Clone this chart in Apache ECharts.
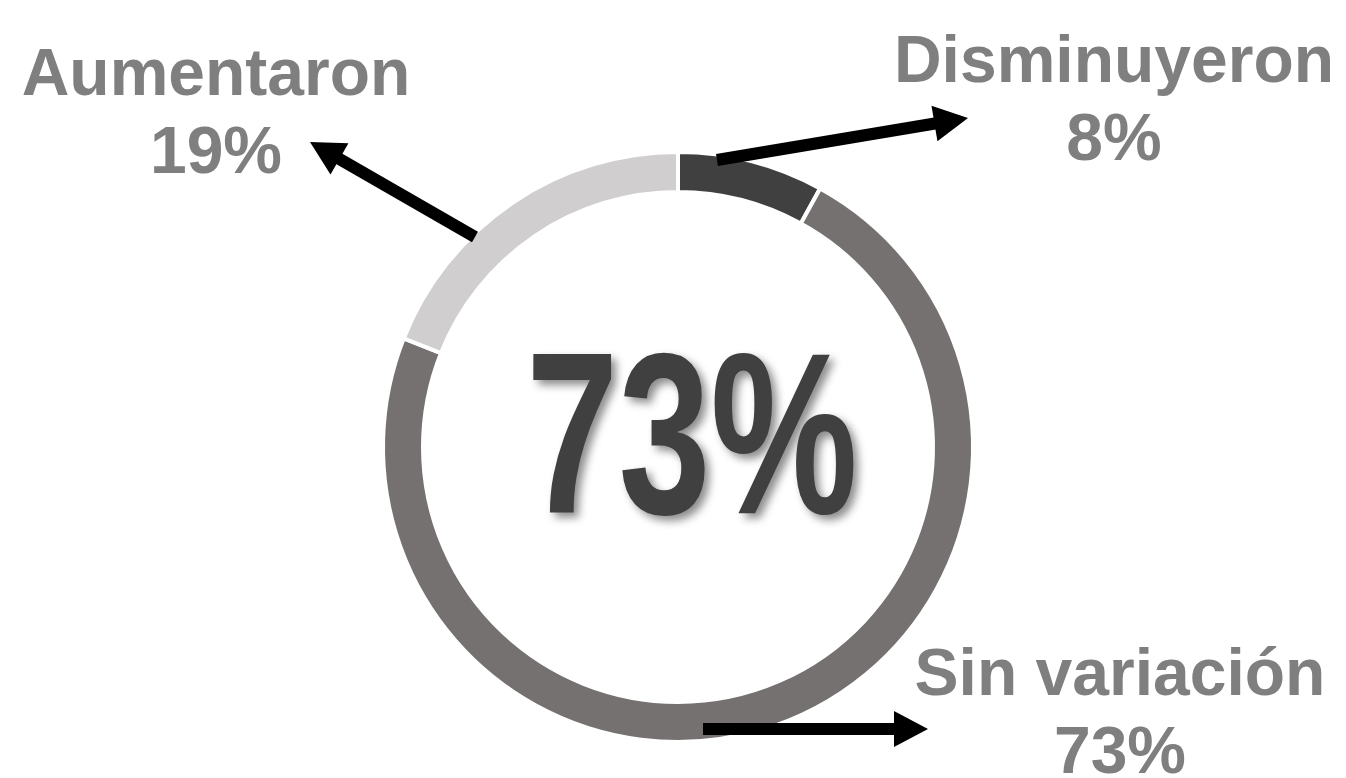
<!DOCTYPE html>
<html>
<head>
<meta charset="utf-8">
<script src="https://cdn.jsdelivr.net/npm/echarts@6/dist/echarts.min.js"></script>
<style>
  html, body { margin: 0; padding: 0; background: #fff; }
  #chart { width: 1346px; height: 778px; }
</style>
</head>
<body>
<div id="chart"></div>
<script>
var chart = echarts.init(document.getElementById('chart'));

// data, clockwise from 12 o'clock
var categories = ['Disminuyeron', 'Sin variación', 'Aumentaron'];
var values = [8, 73, 19];
var colors = ['#404040', '#767171', '#d0cece'];
var centerText = '73%';

// where each label sits (pixels)
var labelPos = [
  [1114, 103],
  [1120, 716],
  [216, 116]
];

// arrows: [tailX, tailY, tipX, tipY]
var arrows = [
  [717, 160, 968, 118],
  [703, 729, 928, 729],
  [475, 237, 310, 142]
];

function arrow(a) {
  var x1 = a[0], y1 = a[1], x2 = a[2], y2 = a[3];
  var dx = x2 - x1, dy = y2 - y1;
  var len = Math.sqrt(dx * dx + dy * dy);
  var ux = dx / len, uy = dy / len;
  var headLen = 34, headW = 18;
  var bx = x2 - ux * headLen, by = y2 - uy * headLen;
  return [
    {
      type: 'line',
      silent: true,
      z: 100,
      shape: { x1: x1, y1: y1, x2: bx + ux * 2, y2: by + uy * 2 },
      style: { stroke: '#000', lineWidth: 12 }
    },
    {
      type: 'polygon',
      silent: true,
      z: 100,
      shape: {
        points: [
          [x2, y2],
          [bx - uy * headW, by + ux * headW],
          [bx + uy * headW, by - ux * headW]
        ]
      },
      style: { fill: '#000' }
    }
  ];
}

var graphics = [];
arrows.forEach(function(a) {
  graphics = graphics.concat(arrow(a));
});
graphics.push({
  type: 'text',
  x: 692,
  y: 450,
  scaleX: 0.72,
  silent: true,
  z: 100,
  style: {
    text: centerText,
    fill: '#404040',
    font: 'bold 230px "Liberation Sans", Arial, sans-serif',
    textAlign: 'center',
    textVerticalAlign: 'middle',
    textShadowColor: 'rgba(0,0,0,0.45)',
    textShadowBlur: 8,
    textShadowOffsetX: 5,
    textShadowOffsetY: 5
  }
});

var pieData = categories.map(function(name, i) {
  return { name: name, value: values[i], itemStyle: { color: colors[i] } };
});

chart.setOption({
  animation: false,
  series: [{
    type: 'pie',
    center: [678, 447],
    radius: [255, 295],
    startAngle: 90,
    clockwise: true,
    silent: true,
    avoidLabelOverlap: false,
    itemStyle: { borderColor: '#fff', borderWidth: 4 },
    label: {
      show: true,
      formatter: function(p) {
        return p.name + '\n' + p.value + '%';
      },
      fontFamily: '"Liberation Sans", Arial, sans-serif',
      fontWeight: 'bold',
      fontSize: 66,
      lineHeight: 78,
      color: '#7f7f7f',
      align: 'center'
    },
    labelLine: { show: false },
    labelLayout: function(params) {
      var p = labelPos[params.dataIndex];
      return { x: p[0], y: p[1], align: 'center', verticalAlign: 'middle' };
    },
    data: pieData
  }],
  graphic: graphics
});
</script>
</body>
</html>
